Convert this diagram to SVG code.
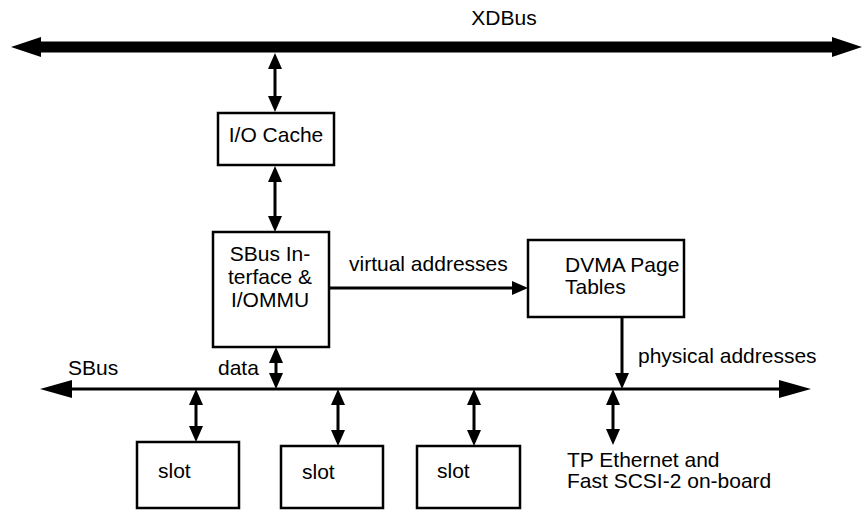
<svg xmlns="http://www.w3.org/2000/svg" width="864" height="512" viewBox="0 0 864 512">
  <defs>
    <style>
      .box { fill: #fff; stroke: #000; stroke-width: 2.5; }
      .lbl { font-family: "Liberation Sans", Arial, Helvetica, sans-serif; font-size: 21px; fill: #000; }
      .mid { text-anchor: middle; }
      .v { stroke: #000; stroke-width: 3; fill: none; }
    </style>
    <marker id="bigHead" markerUnits="userSpaceOnUse" markerWidth="30" markerHeight="22" refX="0" refY="10" orient="auto-start-reverse" viewBox="0 0 30 20">
      <path d="M0,0 L30,10 L0,20 z" fill="#000"/>
    </marker>
    <marker id="busHead" markerUnits="userSpaceOnUse" markerWidth="32" markerHeight="18" refX="0" refY="9" orient="auto-start-reverse" viewBox="0 0 32 18">
      <path d="M0,0 L32,9 L0,18 z" fill="#000"/>
    </marker>
    <marker id="head" markerUnits="userSpaceOnUse" markerWidth="16" markerHeight="14" refX="0" refY="7" orient="auto-start-reverse" viewBox="0 0 16 14">
      <path d="M0,0 L16,7 L0,14 z" fill="#000"/>
    </marker>
  </defs>
  <rect width="864" height="512" fill="#fff"/>

  <g id="connectors">
    <!-- XDBus -->
    <line x1="41" y1="47" x2="832" y2="47" stroke="#000" stroke-width="11" marker-start="url(#bigHead)" marker-end="url(#bigHead)"/>
    <!-- SBus -->
    <line x1="72" y1="389" x2="779" y2="389" stroke="#000" stroke-width="3" marker-start="url(#busHead)" marker-end="url(#busHead)"/>
    <!-- XDBus <-> I/O Cache -->
    <line class="v" x1="275" y1="69" x2="275" y2="96" marker-start="url(#head)" marker-end="url(#head)"/>
    <!-- I/O Cache <-> SBus Interface -->
    <line class="v" x1="275" y1="182" x2="275" y2="216" marker-start="url(#head)" marker-end="url(#head)"/>
    <!-- data -->
    <line class="v" x1="276" y1="363" x2="276" y2="373" marker-start="url(#head)" marker-end="url(#head)"/>
    <!-- slots -->
    <line class="v" x1="196" y1="405" x2="196" y2="426" marker-start="url(#head)" marker-end="url(#head)"/>
    <line class="v" x1="338" y1="405" x2="338" y2="430" marker-start="url(#head)" marker-end="url(#head)"/>
    <line class="v" x1="474" y1="405" x2="474" y2="430" marker-start="url(#head)" marker-end="url(#head)"/>
    <line class="v" x1="613" y1="405" x2="613" y2="429" marker-start="url(#head)" marker-end="url(#head)"/>
    <!-- virtual addresses -->
    <line class="v" x1="329" y1="288" x2="512" y2="288" marker-end="url(#head)"/>
    <!-- physical addresses -->
    <line class="v" x1="622" y1="318" x2="622" y2="373" marker-end="url(#head)"/>
  </g>

  <text class="lbl mid" x="504" y="25">XDBus</text>
  <text class="lbl" x="349" y="271">virtual addresses</text>
  <text class="lbl" x="638" y="363">physical addresses</text>
  <text class="lbl" x="68" y="375">SBus</text>
  <text class="lbl" x="218" y="375">data</text>

  <g id="io-cache">
    <rect class="box" x="218" y="113" width="116" height="52"/>
    <text class="lbl mid" x="276" y="142">I/O Cache</text>
  </g>
  <g id="sbus-interface">
    <rect class="box" x="213" y="232" width="116" height="115"/>
    <text class="lbl mid" x="270" y="261">SBus In-</text>
    <text class="lbl mid" x="270" y="284">terface &amp;</text>
    <text class="lbl mid" x="270" y="307">I/OMMU</text>
  </g>
  <g id="dvma">
    <rect class="box" x="528" y="240" width="156" height="77"/>
    <text class="lbl" x="565" y="272">DVMA Page</text>
    <text class="lbl" x="565" y="294">Tables</text>
  </g>
  <g id="slot1">
    <rect class="box" x="137" y="442" width="102" height="66"/>
    <text class="lbl" x="158" y="478">slot</text>
  </g>
  <g id="slot2">
    <rect class="box" x="281" y="446" width="102" height="62"/>
    <text class="lbl" x="302" y="479">slot</text>
  </g>
  <g id="slot3">
    <rect class="box" x="417" y="446" width="103" height="62"/>
    <text class="lbl" x="437" y="478">slot</text>
  </g>
  <g id="tp-ethernet">
    <text class="lbl" x="567" y="467">TP Ethernet and</text>
    <text class="lbl" x="567" y="488">Fast SCSI-2 on-board</text>
  </g>
</svg>
